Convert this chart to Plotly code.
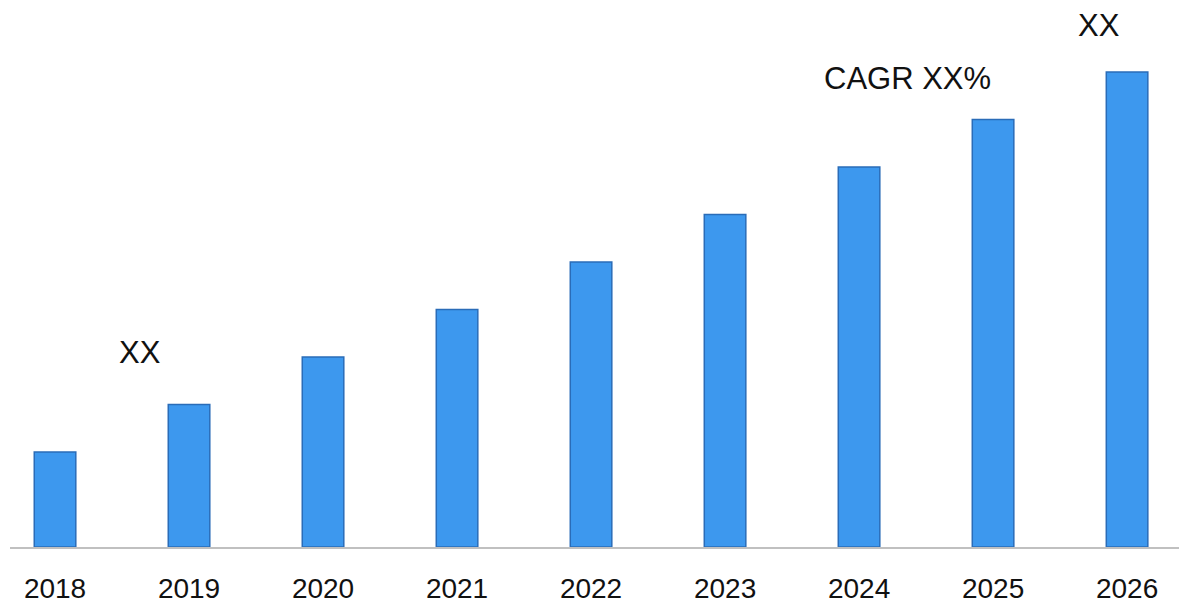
import plotly.graph_objects as go

years = ["2018", "2019", "2020", "2021", "2022", "2023", "2024", "2025", "2026"]
values = [2.0, 3.0, 4.0, 5.0, 6.0, 7.0, 8.0, 9.0, 10.0]

fig = go.Figure()
fig.add_trace(go.Bar(
    x=years, y=values, width=0.31,
    marker=dict(color="#3d98ee", line=dict(color="#2a6cb8", width=1.5)),
))

font_family = "Liberation Sans, Arial, sans-serif"
fig.add_annotation(x=0.634, y=4.1, xref="x", yref="y", text="XX", showarrow=False,
                   font=dict(size=31, color="#111111", family=font_family))
fig.add_annotation(x=6.365, y=9.87, xref="x", yref="y", text="CAGR XX%", showarrow=False,
                   font=dict(size=31, color="#111111", family=font_family))
fig.add_annotation(x=7.791, y=10.98, xref="x", yref="y", text="XX", showarrow=False,
                   font=dict(size=31, color="#111111", family=font_family))

fig.update_layout(
    width=1187, height=605,
    margin=dict(l=2, r=0, t=0, b=66),
    paper_bgcolor="white", plot_bgcolor="white",
    showlegend=False,
    xaxis=dict(type="category", range=[-0.336, 8.507], showline=True, linecolor="#c0c0c0",
               linewidth=2, showgrid=False, ticks="", ticklabelstandoff=15,
               tickfont=dict(size=28, color="#111111", family=font_family)),
    yaxis=dict(range=[0, 11.347], visible=False, showgrid=False, zeroline=False),
)

fig.write_html("out.html")
